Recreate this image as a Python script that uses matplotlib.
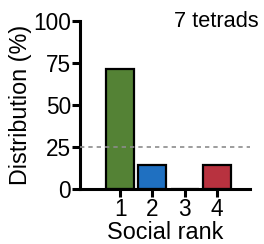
import matplotlib
matplotlib.use("Agg")
import matplotlib.pyplot as plt
import numpy as np

plt.rcParams['font.family'] = ['Liberation Sans', 'DejaVu Sans']

# data
ranks = [1, 2, 3, 4]
rank_labels = ["1", "2", "3", "4"]
distribution = [71.4, 14.3, 0.0, 14.3]
bar_colors = ["#548235", "#1f70c1", "#1f70c1", "#b8323f"]
chance_level = 25
n_label = "7 tetrads"
y_ticks = [0, 25, 50, 75, 100]

fig = plt.figure(figsize=(2.64, 2.44), dpi=100)
ax = fig.add_axes([0.303, 0.225, 0.644, 0.69])

ax.bar(ranks, distribution, width=0.86, color=bar_colors,
       edgecolor="black", linewidth=1.6, zorder=2)
# chance line is drawn over the bars
ax.axhline(chance_level, color="#8c8c8c", linestyle=(0, (2.6, 2.4)),
           linewidth=1.2, zorder=3)

ax.set_xlim(-0.24, 5.02)
ax.set_ylim(0, 100)
ax.set_xticks(ranks)
ax.set_xticklabels(rank_labels)
ax.set_yticks(y_ticks)

for s in ["top", "right"]:
    ax.spines[s].set_visible(False)
for s in ["left", "bottom"]:
    ax.spines[s].set_linewidth(2.2)
ax.tick_params(width=2.2, length=5.5, labelsize=16.3, pad=1)

ax.set_ylabel("Distribution (%)", fontsize=16.8, labelpad=1)
ax.set_xlabel("Social rank", fontsize=16.8, labelpad=0)
fig.text(0.981, 0.955, n_label, fontsize=15.7, ha="right", va="top")

fig.savefig("out.png", dpi=100)
